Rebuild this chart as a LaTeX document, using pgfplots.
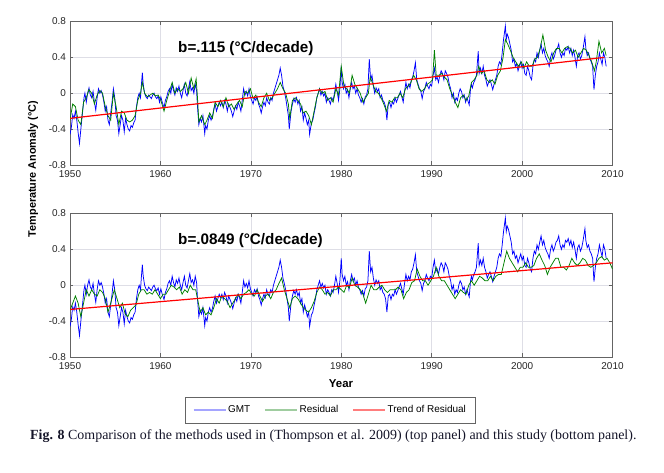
\documentclass[border=0pt]{standalone}
\usepackage{pgfplots}
\usepackage{pgfplotstable}
\pgfplotsset{compat=1.18}
\usepackage{fontspec}
\setmainfont{Liberation Sans}
\newfontfamily\capfont{Liberation Serif}

\definecolor{gmtblue}{RGB}{0,0,255}
\definecolor{resgreen}{RGB}{0,128,0}
\definecolor{trendred}{RGB}{255,0,0}
\definecolor{gridgray}{RGB}{222,222,230}
\definecolor{framegray}{RGB}{100,100,100}
\definecolor{labelgray}{RGB}{38,38,38}
\definecolor{legblue}{RGB}{165,165,255}
\definecolor{leggreen}{RGB}{160,205,160}
\definecolor{legred}{RGB}{255,125,125}
\definecolor{captext}{RGB}{20,20,40}

% GMT (same in both panels)
\pgfplotstableread[row sep=\\]{
year val\\
1950.0 -0.46\\ 1950.15 -0.38\\ 1950.3 -0.24\\ 1950.45 -0.28\\ 1950.6 -0.2\\ 1950.75 -0.3\\ 1950.9 -0.44\\ 1951.05 -0.56\\ 1951.2 -0.4\\ 1951.4 -0.2\\
1951.55 -0.05\\ 1951.65 0.0\\ 1951.8 -0.1\\ 1951.95 0.0\\ 1952.1 0.06\\ 1952.25 -0.02\\ 1952.4 -0.05\\ 1952.55 0.02\\ 1952.7 -0.1\\ 1952.85 -0.19\\
1953.0 -0.05\\ 1953.15 0.05\\ 1953.3 0.0\\ 1953.45 0.03\\ 1953.6 -0.02\\ 1953.75 -0.1\\ 1953.9 -0.2\\ 1954.05 -0.15\\ 1954.2 -0.3\\ 1954.35 -0.35\\
1954.5 -0.22\\ 1954.65 -0.1\\ 1954.8 0.05\\ 1954.95 -0.05\\ 1955.1 -0.25\\ 1955.25 -0.3\\ 1955.4 -0.45\\ 1955.55 -0.35\\ 1955.7 -0.25\\ 1955.85 -0.3\\
1956.0 -0.43\\ 1956.15 -0.28\\ 1956.3 -0.35\\ 1956.45 -0.4\\ 1956.6 -0.42\\ 1956.75 -0.36\\ 1956.9 -0.38\\ 1957.05 -0.33\\ 1957.2 -0.3\\ 1957.35 -0.15\\
1957.5 -0.05\\ 1957.65 0.0\\ 1957.8 -0.05\\ 1957.9 0.1\\ 1958.0 0.23\\ 1958.1 0.1\\ 1958.25 0.0\\ 1958.4 -0.04\\ 1958.55 -0.06\\ 1958.7 -0.02\\
1958.85 -0.04\\ 1959.0 -0.06\\ 1959.15 -0.02\\ 1959.3 0.0\\ 1959.45 -0.04\\ 1959.6 -0.06\\ 1959.75 -0.03\\ 1959.9 -0.1\\ 1960.05 -0.04\\ 1960.2 -0.1\\
1960.4 -0.16\\ 1960.55 -0.08\\ 1960.7 -0.04\\ 1960.85 0.02\\ 1961.0 0.05\\ 1961.15 0.0\\ 1961.3 0.1\\ 1961.45 0.03\\ 1961.6 -0.02\\ 1961.75 0.06\\
1961.9 0.02\\ 1962.05 0.08\\ 1962.2 0.0\\ 1962.35 -0.05\\ 1962.5 0.03\\ 1962.65 0.1\\ 1962.8 0.0\\ 1962.95 -0.03\\ 1963.1 0.05\\ 1963.25 0.13\\
1963.4 0.03\\ 1963.55 0.06\\ 1963.7 0.0\\ 1963.85 0.1\\ 1964.0 0.03\\ 1964.1 -0.15\\ 1964.25 -0.35\\ 1964.4 -0.28\\ 1964.55 -0.32\\ 1964.7 -0.25\\
1964.9 -0.45\\ 1965.0 -0.36\\ 1965.15 -0.4\\ 1965.3 -0.3\\ 1965.45 -0.25\\ 1965.6 -0.3\\ 1965.75 -0.26\\ 1965.9 -0.18\\ 1966.05 -0.12\\ 1966.2 -0.2\\
1966.35 -0.15\\ 1966.5 -0.1\\ 1966.65 -0.14\\ 1966.8 -0.1\\ 1966.95 -0.16\\ 1967.1 -0.08\\ 1967.25 -0.12\\ 1967.4 -0.2\\ 1967.55 -0.12\\ 1967.7 -0.16\\
1967.85 -0.2\\ 1968.0 -0.26\\ 1968.15 -0.2\\ 1968.3 -0.14\\ 1968.45 -0.18\\ 1968.6 -0.1\\ 1968.75 -0.14\\ 1968.9 -0.2\\ 1969.05 -0.08\\ 1969.2 0.05\\
1969.35 -0.02\\ 1969.5 0.02\\ 1969.65 -0.03\\ 1969.8 0.05\\ 1969.95 -0.04\\ 1970.1 -0.08\\ 1970.25 -0.12\\ 1970.4 -0.05\\ 1970.55 -0.08\\ 1970.7 -0.04\\
1970.85 -0.12\\ 1971.0 -0.16\\ 1971.15 -0.22\\ 1971.3 -0.15\\ 1971.45 -0.1\\ 1971.6 -0.14\\ 1971.75 -0.05\\ 1971.9 -0.1\\ 1972.05 -0.12\\ 1972.2 -0.05\\
1972.35 -0.08\\ 1972.5 0.0\\ 1972.65 0.05\\ 1972.8 0.1\\ 1972.95 0.15\\ 1973.1 0.2\\ 1973.25 0.28\\ 1973.4 0.2\\ 1973.55 0.08\\ 1973.7 0.02\\
1973.85 -0.05\\ 1974.0 -0.15\\ 1974.15 -0.25\\ 1974.25 -0.4\\ 1974.45 -0.2\\ 1974.6 -0.12\\ 1974.75 -0.06\\ 1974.9 -0.1\\ 1975.05 -0.05\\ 1975.2 -0.12\\
1975.35 -0.08\\ 1975.5 -0.2\\ 1975.65 -0.15\\ 1975.8 -0.3\\ 1975.95 -0.22\\ 1976.1 -0.28\\ 1976.25 -0.35\\ 1976.4 -0.3\\ 1976.5 -0.46\\ 1976.7 -0.33\\
1976.85 -0.3\\ 1977.0 -0.22\\ 1977.15 -0.15\\ 1977.3 -0.05\\ 1977.45 0.0\\ 1977.6 0.05\\ 1977.75 -0.02\\ 1977.9 0.02\\ 1978.05 -0.03\\ 1978.2 0.0\\
1978.35 -0.1\\ 1978.5 -0.05\\ 1978.65 -0.08\\ 1978.8 -0.12\\ 1978.95 -0.05\\ 1979.1 -0.08\\ 1979.25 0.0\\ 1979.4 0.1\\ 1979.55 0.02\\ 1979.7 -0.08\\
1979.85 0.05\\ 1980.0 0.3\\ 1980.1 0.12\\ 1980.25 0.05\\ 1980.4 0.1\\ 1980.55 0.0\\ 1980.7 0.04\\ 1980.85 -0.05\\ 1981.0 0.05\\ 1981.15 0.12\\
1981.3 0.05\\ 1981.45 0.08\\ 1981.6 0.0\\ 1981.75 0.05\\ 1981.9 -0.02\\ 1982.05 -0.05\\ 1982.2 -0.1\\ 1982.35 -0.06\\ 1982.5 -0.12\\ 1982.65 -0.04\\
1982.8 -0.02\\ 1982.95 0.05\\ 1983.1 0.38\\ 1983.25 0.15\\ 1983.4 0.2\\ 1983.55 0.08\\ 1983.7 0.0\\ 1983.85 0.06\\ 1984.0 0.02\\ 1984.15 0.05\\
1984.3 -0.05\\ 1984.45 -0.02\\ 1984.6 -0.08\\ 1984.75 -0.1\\ 1984.9 -0.15\\ 1985.05 -0.3\\ 1985.2 -0.12\\ 1985.35 -0.1\\ 1985.5 -0.16\\ 1985.65 -0.1\\
1985.8 -0.12\\ 1985.95 -0.05\\ 1986.1 -0.1\\ 1986.25 -0.06\\ 1986.4 -0.02\\ 1986.55 0.02\\ 1986.7 -0.04\\ 1986.85 -0.1\\ 1987.0 0.02\\ 1987.15 0.12\\
1987.3 0.05\\ 1987.45 0.1\\ 1987.6 0.06\\ 1987.75 0.15\\ 1987.9 0.18\\ 1988.05 0.25\\ 1988.2 0.34\\ 1988.35 0.15\\ 1988.5 0.1\\ 1988.65 0.05\\
1988.8 0.02\\ 1988.95 -0.06\\ 1989.1 0.02\\ 1989.25 0.05\\ 1989.4 0.12\\ 1989.55 0.08\\ 1989.7 0.05\\ 1989.85 0.1\\ 1990.0 0.08\\ 1990.15 0.2\\
1990.3 0.28\\ 1990.45 0.15\\ 1990.6 0.18\\ 1990.75 0.12\\ 1990.9 0.2\\ 1991.05 0.25\\ 1991.2 0.22\\ 1991.35 0.15\\ 1991.5 0.25\\ 1991.65 0.22\\
1991.8 0.18\\ 1991.95 0.1\\ 1992.1 0.05\\ 1992.25 -0.05\\ 1992.4 0.0\\ 1992.55 -0.1\\ 1992.7 -0.05\\ 1992.85 -0.08\\ 1993.0 0.0\\ 1993.15 0.05\\
1993.3 0.02\\ 1993.45 -0.05\\ 1993.6 -0.02\\ 1993.75 -0.1\\ 1993.9 -0.05\\ 1994.15 -0.13\\ 1994.3 0.05\\ 1994.4 0.1\\ 1994.5 0.06\\ 1994.65 0.12\\
1994.8 0.15\\ 1994.95 0.2\\ 1995.15 0.47\\ 1995.25 0.22\\ 1995.4 0.28\\ 1995.55 0.22\\ 1995.7 0.3\\ 1995.85 0.2\\ 1996.0 0.15\\ 1996.15 0.08\\
1996.3 0.12\\ 1996.45 0.15\\ 1996.6 0.1\\ 1996.75 0.04\\ 1996.9 0.1\\ 1997.05 0.15\\ 1997.2 0.2\\ 1997.35 0.3\\ 1997.5 0.35\\ 1997.65 0.32\\
1997.8 0.45\\ 1997.95 0.6\\ 1998.15 0.75\\ 1998.25 0.6\\ 1998.35 0.66\\ 1998.5 0.62\\ 1998.65 0.55\\ 1998.8 0.48\\ 1998.95 0.35\\ 1999.1 0.38\\
1999.25 0.3\\ 1999.4 0.33\\ 1999.55 0.25\\ 1999.7 0.3\\ 1999.85 0.35\\ 2000.0 0.28\\ 2000.15 0.32\\ 2000.3 0.22\\ 2000.45 0.2\\ 2000.6 0.3\\
2000.75 0.25\\ 2000.9 0.18\\ 2001.05 0.15\\ 2001.2 0.3\\ 2001.35 0.38\\ 2001.5 0.35\\ 2001.65 0.45\\ 2001.8 0.4\\ 2001.95 0.48\\ 2002.1 0.55\\
2002.25 0.45\\ 2002.4 0.5\\ 2002.55 0.42\\ 2002.7 0.38\\ 2002.85 0.35\\ 2003.0 0.3\\ 2003.15 0.4\\ 2003.3 0.45\\ 2003.45 0.38\\ 2003.6 0.42\\
2003.75 0.48\\ 2003.9 0.5\\ 2004.05 0.55\\ 2004.2 0.45\\ 2004.35 0.4\\ 2004.5 0.45\\ 2004.65 0.42\\ 2004.8 0.5\\ 2004.95 0.48\\ 2005.1 0.52\\
2005.25 0.45\\ 2005.4 0.5\\ 2005.55 0.42\\ 2005.7 0.48\\ 2005.85 0.4\\ 2006.0 0.3\\ 2006.15 0.42\\ 2006.3 0.45\\ 2006.45 0.38\\ 2006.6 0.42\\
2006.75 0.5\\ 2006.95 0.63\\ 2007.05 0.5\\ 2007.2 0.42\\ 2007.35 0.45\\ 2007.5 0.38\\ 2007.65 0.35\\ 2007.8 0.3\\ 2007.95 0.04\\ 2008.1 0.2\\
2008.25 0.3\\ 2008.4 0.35\\ 2008.55 0.45\\ 2008.7 0.38\\ 2008.85 0.32\\ 2009.0 0.45\\ 2009.15 0.4\\ 2009.3 0.3\\
}\gmt

% residual, top panel (Thompson et al. 2009)
\pgfplotstableread[row sep=\\]{
year val\\
1950.0 -0.3\\ 1950.3 -0.12\\ 1950.6 -0.15\\ 1950.9 -0.3\\ 1951.2 -0.35\\ 1951.5 -0.1\\ 1951.8 -0.05\\ 1952.1 0.04\\ 1952.4 0.0\\ 1952.7 -0.12\\
1953.0 -0.02\\ 1953.3 0.03\\ 1953.6 0.0\\ 1953.9 -0.15\\ 1954.2 -0.25\\ 1954.5 -0.3\\ 1954.8 0.0\\ 1955.1 -0.15\\ 1955.4 -0.35\\ 1955.7 -0.2\\
1956.0 -0.22\\ 1956.3 -0.3\\ 1956.6 -0.32\\ 1956.9 -0.3\\ 1957.2 -0.25\\ 1957.5 -0.08\\ 1957.8 0.0\\ 1958.0 0.12\\ 1958.25 0.0\\ 1958.55 -0.04\\
1958.85 -0.02\\ 1959.15 0.0\\ 1959.45 -0.03\\ 1959.75 -0.02\\ 1960.05 -0.08\\ 1960.4 -0.2\\ 1960.7 -0.08\\ 1961.0 0.02\\ 1961.3 0.12\\ 1961.6 0.0\\
1961.9 0.05\\ 1962.2 0.02\\ 1962.5 0.05\\ 1962.8 0.12\\ 1963.1 0.0\\ 1963.4 0.17\\ 1963.7 0.05\\ 1963.95 0.16\\ 1964.1 -0.05\\ 1964.25 -0.32\\
1964.55 -0.25\\ 1964.9 -0.35\\ 1965.15 -0.3\\ 1965.45 -0.22\\ 1965.75 -0.28\\ 1966.05 -0.1\\ 1966.35 -0.15\\ 1966.65 -0.08\\ 1966.95 -0.15\\ 1967.25 -0.05\\
1967.55 -0.15\\ 1967.85 -0.12\\ 1968.15 -0.18\\ 1968.45 -0.12\\ 1968.75 -0.08\\ 1969.05 -0.15\\ 1969.35 0.02\\ 1969.65 0.0\\ 1969.95 0.05\\ 1970.25 -0.06\\
1970.55 -0.02\\ 1970.85 -0.1\\ 1971.15 -0.15\\ 1971.45 -0.05\\ 1971.75 0.0\\ 1972.05 -0.08\\ 1972.35 -0.05\\ 1972.65 0.0\\ 1972.95 0.05\\ 1973.25 0.12\\
1973.55 0.05\\ 1973.85 0.0\\ 1974.15 -0.12\\ 1974.3 -0.28\\ 1974.6 -0.08\\ 1974.9 -0.05\\ 1975.2 -0.08\\ 1975.5 -0.12\\ 1975.8 -0.22\\ 1976.1 -0.2\\
1976.4 -0.25\\ 1976.7 -0.35\\ 1977.0 -0.2\\ 1977.3 -0.05\\ 1977.6 0.05\\ 1977.9 0.0\\ 1978.2 0.02\\ 1978.5 -0.08\\ 1978.8 -0.05\\ 1979.1 -0.1\\
1979.4 0.05\\ 1979.7 -0.02\\ 1980.0 0.3\\ 1980.3 0.08\\ 1980.6 0.05\\ 1980.9 0.0\\ 1981.2 0.2\\ 1981.5 0.1\\ 1981.8 0.05\\ 1982.1 0.0\\
1982.4 -0.1\\ 1982.7 -0.05\\ 1983.0 0.0\\ 1983.2 0.18\\ 1983.5 0.1\\ 1983.8 0.02\\ 1984.1 0.0\\ 1984.4 -0.05\\ 1984.7 -0.12\\ 1985.0 -0.2\\
1985.3 -0.08\\ 1985.6 -0.1\\ 1985.9 -0.05\\ 1986.2 -0.05\\ 1986.5 0.0\\ 1986.8 -0.05\\ 1987.1 0.05\\ 1987.4 0.08\\ 1987.7 0.12\\ 1988.0 0.2\\
1988.3 0.15\\ 1988.6 0.05\\ 1988.9 0.02\\ 1989.2 0.05\\ 1989.5 0.1\\ 1989.8 0.12\\ 1990.1 0.15\\ 1990.3 0.48\\ 1990.5 0.2\\ 1990.8 0.2\\
1991.1 0.22\\ 1991.4 0.18\\ 1991.7 0.15\\ 1992.0 0.05\\ 1992.3 -0.02\\ 1992.6 -0.1\\ 1992.9 -0.16\\ 1993.2 -0.05\\ 1993.5 -0.02\\ 1993.8 -0.08\\
1994.1 -0.03\\ 1994.4 0.12\\ 1994.7 0.15\\ 1995.0 0.2\\ 1995.2 0.3\\ 1995.5 0.22\\ 1995.8 0.25\\ 1996.1 0.15\\ 1996.4 0.12\\ 1996.7 0.15\\
1997.0 0.1\\ 1997.3 0.2\\ 1997.6 0.25\\ 1997.9 0.4\\ 1998.15 0.6\\ 1998.4 0.55\\ 1998.7 0.48\\ 1999.0 0.4\\ 1999.3 0.35\\ 1999.6 0.3\\
1999.9 0.35\\ 2000.2 0.28\\ 2000.5 0.35\\ 2000.8 0.3\\ 2001.1 0.3\\ 2001.4 0.38\\ 2001.7 0.4\\ 2002.0 0.5\\ 2002.3 0.65\\ 2002.6 0.48\\
2002.9 0.4\\ 2003.2 0.35\\ 2003.5 0.45\\ 2003.8 0.5\\ 2004.1 0.5\\ 2004.4 0.45\\ 2004.7 0.5\\ 2005.0 0.52\\ 2005.3 0.5\\ 2005.6 0.45\\
2005.9 0.48\\ 2006.2 0.4\\ 2006.5 0.45\\ 2006.8 0.5\\ 2007.1 0.48\\ 2007.4 0.42\\ 2007.7 0.35\\ 2008.0 0.25\\ 2008.2 0.35\\ 2008.5 0.58\\
2008.8 0.45\\ 2009.1 0.5\\ 2009.3 0.42\\
}\restop

% residual, bottom panel (this study)
\pgfplotstableread[row sep=\\]{
year val\\
1950.0 -0.28\\ 1950.3 -0.2\\ 1950.6 -0.12\\ 1950.9 -0.2\\ 1951.2 -0.35\\ 1951.5 -0.2\\ 1951.8 -0.05\\ 1952.1 -0.12\\ 1952.4 -0.05\\ 1952.7 -0.1\\
1953.0 -0.12\\ 1953.3 -0.05\\ 1953.6 -0.08\\ 1953.9 -0.15\\ 1954.2 -0.3\\ 1954.5 -0.2\\ 1954.9 -0.05\\ 1955.2 -0.15\\ 1955.5 -0.25\\ 1955.8 -0.2\\
1956.1 -0.32\\ 1956.4 -0.35\\ 1956.7 -0.28\\ 1957.0 -0.25\\ 1957.3 -0.22\\ 1957.6 -0.1\\ 1957.9 -0.05\\ 1958.2 -0.05\\ 1958.5 -0.1\\ 1958.8 -0.08\\
1959.1 -0.1\\ 1959.4 -0.05\\ 1959.7 -0.1\\ 1960.0 -0.15\\ 1960.3 -0.1\\ 1960.6 -0.1\\ 1960.9 -0.05\\ 1961.2 0.0\\ 1961.5 -0.02\\ 1961.8 -0.05\\
1962.1 -0.02\\ 1962.4 -0.1\\ 1962.7 -0.05\\ 1963.0 -0.08\\ 1963.3 0.0\\ 1963.6 -0.05\\ 1963.9 -0.05\\ 1964.1 -0.15\\ 1964.4 -0.3\\ 1964.7 -0.25\\
1965.0 -0.33\\ 1965.3 -0.3\\ 1965.6 -0.33\\ 1965.9 -0.25\\ 1966.2 -0.15\\ 1966.5 -0.2\\ 1966.8 -0.12\\ 1967.1 -0.15\\ 1967.4 -0.18\\ 1967.7 -0.25\\
1968.0 -0.2\\ 1968.3 -0.15\\ 1968.6 -0.1\\ 1968.9 -0.15\\ 1969.2 -0.1\\ 1969.5 -0.08\\ 1969.8 -0.05\\ 1970.1 -0.1\\ 1970.4 -0.12\\ 1970.7 -0.05\\
1971.0 -0.12\\ 1971.3 -0.18\\ 1971.6 -0.12\\ 1971.9 -0.1\\ 1972.2 -0.15\\ 1972.5 -0.08\\ 1972.8 -0.05\\ 1973.1 0.02\\ 1973.4 0.08\\ 1973.7 -0.05\\
1974.0 -0.15\\ 1974.3 -0.25\\ 1974.6 -0.15\\ 1974.9 -0.12\\ 1975.2 -0.15\\ 1975.5 -0.2\\ 1975.8 -0.25\\ 1976.1 -0.28\\ 1976.4 -0.3\\ 1976.7 -0.25\\
1977.0 -0.18\\ 1977.3 -0.08\\ 1977.6 -0.02\\ 1977.9 -0.05\\ 1978.2 -0.1\\ 1978.5 -0.08\\ 1978.8 -0.12\\ 1979.1 -0.05\\ 1979.4 -0.05\\ 1979.7 -0.02\\
1980.0 -0.05\\ 1980.3 -0.08\\ 1980.6 0.0\\ 1980.9 -0.03\\ 1981.2 0.08\\ 1981.5 0.0\\ 1981.8 -0.02\\ 1982.1 -0.05\\ 1982.4 -0.1\\ 1982.7 -0.2\\
1983.0 -0.1\\ 1983.3 0.0\\ 1983.6 -0.05\\ 1983.9 -0.05\\ 1984.2 -0.02\\ 1984.5 0.0\\ 1984.8 -0.05\\ 1985.1 -0.08\\ 1985.4 -0.05\\ 1985.7 -0.05\\
1986.0 -0.05\\ 1986.3 -0.02\\ 1986.6 -0.05\\ 1986.9 -0.15\\ 1987.2 -0.08\\ 1987.5 -0.05\\ 1987.8 0.03\\ 1988.1 0.05\\ 1988.4 0.18\\ 1988.7 0.1\\
1989.0 0.05\\ 1989.3 0.05\\ 1989.6 0.0\\ 1989.9 0.05\\ 1990.2 0.1\\ 1990.5 0.2\\ 1990.8 0.1\\ 1991.1 0.05\\ 1991.4 0.05\\ 1991.7 0.0\\
1992.0 -0.05\\ 1992.3 -0.1\\ 1992.6 -0.15\\ 1992.9 -0.1\\ 1993.2 -0.05\\ 1993.5 -0.08\\ 1993.8 -0.1\\ 1994.1 0.0\\ 1994.4 0.05\\ 1994.7 0.0\\
1995.0 0.05\\ 1995.3 0.1\\ 1995.6 0.08\\ 1995.9 0.05\\ 1996.2 0.05\\ 1996.5 0.1\\ 1996.8 0.05\\ 1997.1 0.1\\ 1997.4 0.12\\ 1997.7 0.12\\
1998.0 0.25\\ 1998.3 0.38\\ 1998.6 0.3\\ 1998.9 0.25\\ 1999.2 0.2\\ 1999.5 0.15\\ 1999.8 0.2\\ 2000.1 0.2\\ 2000.4 0.25\\ 2000.7 0.2\\
2001.0 0.2\\ 2001.3 0.22\\ 2001.6 0.3\\ 2001.9 0.35\\ 2002.2 0.28\\ 2002.5 0.22\\ 2002.8 0.12\\ 2003.1 0.2\\ 2003.4 0.25\\ 2003.7 0.3\\
2004.0 0.3\\ 2004.3 0.2\\ 2004.6 0.2\\ 2004.9 0.17\\ 2005.2 0.22\\ 2005.5 0.3\\ 2005.8 0.25\\ 2006.1 0.22\\ 2006.4 0.25\\ 2006.7 0.3\\
2007.0 0.28\\ 2007.3 0.22\\ 2007.6 0.2\\ 2007.9 0.22\\ 2008.2 0.25\\ 2008.5 0.3\\ 2008.8 0.32\\ 2009.1 0.28\\ 2009.4 0.3\\ 2009.7 0.25\\
2010.0 0.18\\
}\resbot

\pgfplotsset{
  panel/.style={
    scale only axis,
    width=542.5bp, height=143.5bp,
    xmin=1950, xmax=2010, ymin=-0.8, ymax=0.8,
    xtick={1950,1960,1970,1980,1990,2000,2010},
    xticklabels={1950,1960,1970,1980,1990,2000,2010},
    ytick={-0.8,-0.4,0,0.4,0.8},
    yticklabels={-0.8,-0.4,0,0.4,0.8},
    grid=major,
    grid style={gridgray, line width=0.5bp},
    axis line style={framegray, line width=0.6bp},
    tick style={framegray, line width=0.6bp},
    tick align=inside,
    major tick length=3.5bp,
    tick label style={font=\fontsize{10}{12}\selectfont, text=labelgray},
    xticklabel style={yshift=-2.5bp},
    yticklabel style={xshift=-0.5bp},
    clip=true,
  },
  gmtline/.style={gmtblue, line width=0.75bp},
  resline/.style={resgreen, line width=0.75bp},
  trendline/.style={trendred, line width=1.2bp},
}

\begin{document}
\begin{tikzpicture}[x=1bp,y=1bp]
\path[use as bounding box] (0,0) rectangle (664,473);

% top panel
\begin{axis}[panel, at={(70bp,308bp)}, anchor=south west]
\addplot[gmtline] table[x=year,y=val] {\gmt};
\addplot[resline] table[x=year,y=val] {\restop};
\addplot[trendline] coordinates {(1950,-0.28) (2009.1,0.40)};
\end{axis}

% bottom panel
\begin{axis}[panel, at={(70bp,116bp)}, anchor=south west,
  legend columns=3,
  legend cell align=left,
  legend style={at={(0.48,-0.278)}, anchor=north,
    draw=framegray, line width=0.6bp, fill=white,
    font=\fontsize{10}{12}\selectfont,
    inner xsep=7.5bp, inner ysep=6.5bp,
    /tikz/every even column/.append style={column sep=12bp}},
]
\addlegendimage{legend image code/.code={\draw[draw=legblue, line width=1.3bp] (0bp,0bp) -- (32bp,0bp);}}
\addlegendimage{legend image code/.code={\draw[draw=leggreen, line width=1.3bp] (0bp,0bp) -- (32bp,0bp);}}
\addlegendimage{legend image code/.code={\draw[draw=legred, line width=1.3bp] (0bp,0bp) -- (32bp,0bp);}}
\legend{GMT, Residual, Trend of Residual}
\addplot[gmtline, forget plot] table[x=year,y=val] {\gmt};
\addplot[resline, forget plot] table[x=year,y=val] {\resbot};
\addplot[trendline, forget plot] coordinates {(1950,-0.27) (2010,0.25)};
\end{axis}

% panel annotations and shared labels
\node[anchor=west, inner sep=0pt, font=\fontsize{15.3}{18}\selectfont\bfseries] at (178,424.5) {b=.115 (°C/decade)};
\node[anchor=west, inner sep=0pt, font=\fontsize{15.3}{18}\selectfont\bfseries] at (178,232.5) {b=.0849 (°C/decade)};
\node[rotate=90, inner sep=0pt, font=\fontsize{10.9}{13}\selectfont\bfseries] at (33,304) {Temperature Anomaly (°C)};
\node[inner sep=0pt, font=\fontsize{11.5}{14}\selectfont\bfseries] at (341,89) {Year};

% caption
\node[anchor=west, inner sep=0pt, text=captext, font=\capfont\fontsize{14}{16}\selectfont] at (30,37)
  {\textbf{Fig. 8} Comparison of the methods used in (Thompson et al. 2009) (top panel) and this study (bottom panel).};
\end{tikzpicture}
\end{document}
